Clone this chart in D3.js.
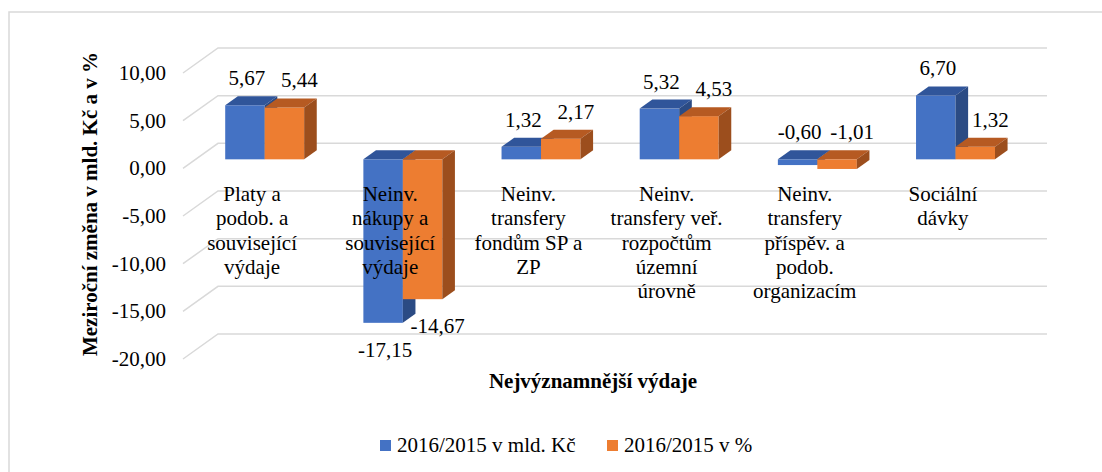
<!DOCTYPE html>
<html lang="cs">
<meta charset="utf-8">
<title>Nejvýznamnější výdaje</title>
<style>
  body { margin: 0; background: #fff; }
  svg text { font-family: 'Liberation Serif', 'DejaVu Serif', serif; }
</style>
<body>
<div id="chart"></div>
<script src="https://cdn.jsdelivr.net/npm/d3@7"></script>
<script>
// data
const categories = [
  ["Platy a", "podob. a", "související", "výdaje"],
  ["Neinv.", "nákupy a", "související", "výdaje"],
  ["Neinv.", "transfery", "fondům SP a", "ZP"],
  ["Neinv.", "transfery veř.", "rozpočtům", "územní", "úrovně"],
  ["Neinv.", "transfery", "příspěv. a", "podob.", "organizacím"],
  ["Sociální", "dávky"]
];
const seriesNames = ["2016/2015 v mld. Kč", "2016/2015 v %"];
const valuesKc = [5.67, -17.15, 1.32, 5.32, -0.60, 6.70];
const valuesPct = [5.44, -14.67, 2.17, 4.53, -1.01, 1.32];
const yTicks = [-20, -15, -10, -5, 0, 5, 10];

const W = 1102, H = 472;
const FONT = "'Liberation Serif', 'DejaVu Serif', serif";
const FS = 21;
const colors = [
  { front: "#4472c4", top: "#30559a", side: "#2b4b84" },
  { front: "#ed7d31", top: "#b65a22", side: "#9c4e1d" }
];

// fake 3D: depth z from 0 (back wall) to 1 (front edge)
const depthX = -35, depthY = 25;
const barZ = 0.64, barDepth = 0.36;
const proj = (x, y, z) => [x + depthX * z, y + depthY * z];

const svg = d3.select("#chart").append("svg").attr("width", W).attr("height", H)
  .attr("font-family", FONT);

// outer chart border
svg.append("rect").attr("x", 9).attr("y", 12).attr("width", W).attr("height", H)
  .attr("fill", "none").attr("stroke", "#d9d9d9").attr("stroke-width", 1.5);

// back wall scales
const x0 = d3.scaleBand().domain(d3.range(categories.length)).range([218, 1047]);
const x1 = d3.scaleBand().domain([0, 1]).range([0, x0.bandwidth()]).paddingOuter(0.75);
const y = d3.scaleLinear().domain([-20, 10]).range([334, 48]);

const fmt = v => d3.format(".2f")(v).replace(".", ",").replace("−", "-");

// gridlines on back wall + side wall
const grid = svg.append("g").attr("stroke", "#d9d9d9").attr("stroke-width", 1.5).attr("fill", "none");
yTicks.forEach(t => {
  const yb = y(t);
  const [fx, fy] = proj(x0.range()[0], yb, 1);
  grid.append("path").attr("d", `M${fx},${fy}L${x0.range()[0]},${yb}L${x0.range()[1]},${yb}`);
});

// tick labels on the front edge
svg.append("g").selectAll("text").data(yTicks).join("text")
  .attr("x", 166)
  .attr("y", d => proj(0, y(d), 1)[1] + 7)
  .attr("text-anchor", "end")
  .attr("font-size", FS)
  .attr("fill", "#000")
  .text(fmt);

// bars
const bars = svg.append("g");
const labelData = [];
const series = [valuesKc, valuesPct];
categories.forEach((c, i) => {
  series.forEach((vals, s) => {
    const v = vals[i];
    const xl = x0(i) + x1(s), xr = xl + x1.bandwidth();
    const yt = y(Math.max(v, 0)), yb = y(Math.min(v, 0));
    const [fl, ft] = proj(xl, yt, barZ);
    const [fr, fb] = proj(xr, yb, barZ);
    const [bl, bt] = proj(xl, yt, barZ - barDepth);
    const [br, bb] = proj(xr, yb, barZ - barDepth);
    const col = colors[s];
    // front
    bars.append("rect").attr("x", fl).attr("y", ft).attr("width", fr - fl).attr("height", fb - ft)
      .attr("fill", col.front);
    // top
    bars.append("path").attr("d", `M${fl},${ft}L${bl},${bt}L${br},${bt}L${fr},${ft}Z`).attr("fill", col.top);
    // side
    bars.append("path").attr("d", `M${fr},${ft}L${br},${bt}L${br},${bb}L${fr},${fb}Z`).attr("fill", col.side);
    labelData.push({ v, cx: (fl + fr) / 2 + (s === 0 ? 2 : 15), ft, fb });
  });
});

// category labels on the front edge
const catG = svg.append("g").attr("font-size", FS).attr("text-anchor", "middle").attr("fill", "#000");
categories.forEach((lines, i) => {
  const cx = proj(x0(i) + x0.bandwidth() / 2, 0, 1)[0];
  const t = catG.append("text").attr("x", cx).attr("y", 201);
  lines.forEach((ln, k) => t.append("tspan").attr("x", cx).attr("y", 201 + k * 24.3).text(ln));
});

// data labels
svg.append("g").attr("font-size", FS).attr("text-anchor", "middle").selectAll("text")
  .data(labelData).join("text")
  .attr("x", d => d.cx)
  .attr("y", d => d.v > -2 ? d.ft - 20 : d.fb + 34)
  .text(d => fmt(d.v));

// axis titles
svg.append("text")
  .attr("transform", "translate(97,204) rotate(-90)")
  .attr("text-anchor", "middle").attr("font-size", FS).attr("font-weight", "bold")
  .text("Meziroční změna v mld. Kč a v %");
svg.append("text")
  .attr("x", 593).attr("y", 388)
  .attr("text-anchor", "middle").attr("font-size", FS).attr("font-weight", "bold")
  .text("Nejvýznamnější výdaje");

// legend
const legendX = [380, 607];
const lg = svg.append("g");
seriesNames.forEach((n, s) => {
  lg.append("rect").attr("x", legendX[s]).attr("y", 440).attr("width", 11).attr("height", 11)
    .attr("fill", colors[s].front);
  lg.append("text").attr("x", legendX[s] + 17).attr("y", 452).attr("font-size", FS).text(n);
});
</script>
</body>
</html>
